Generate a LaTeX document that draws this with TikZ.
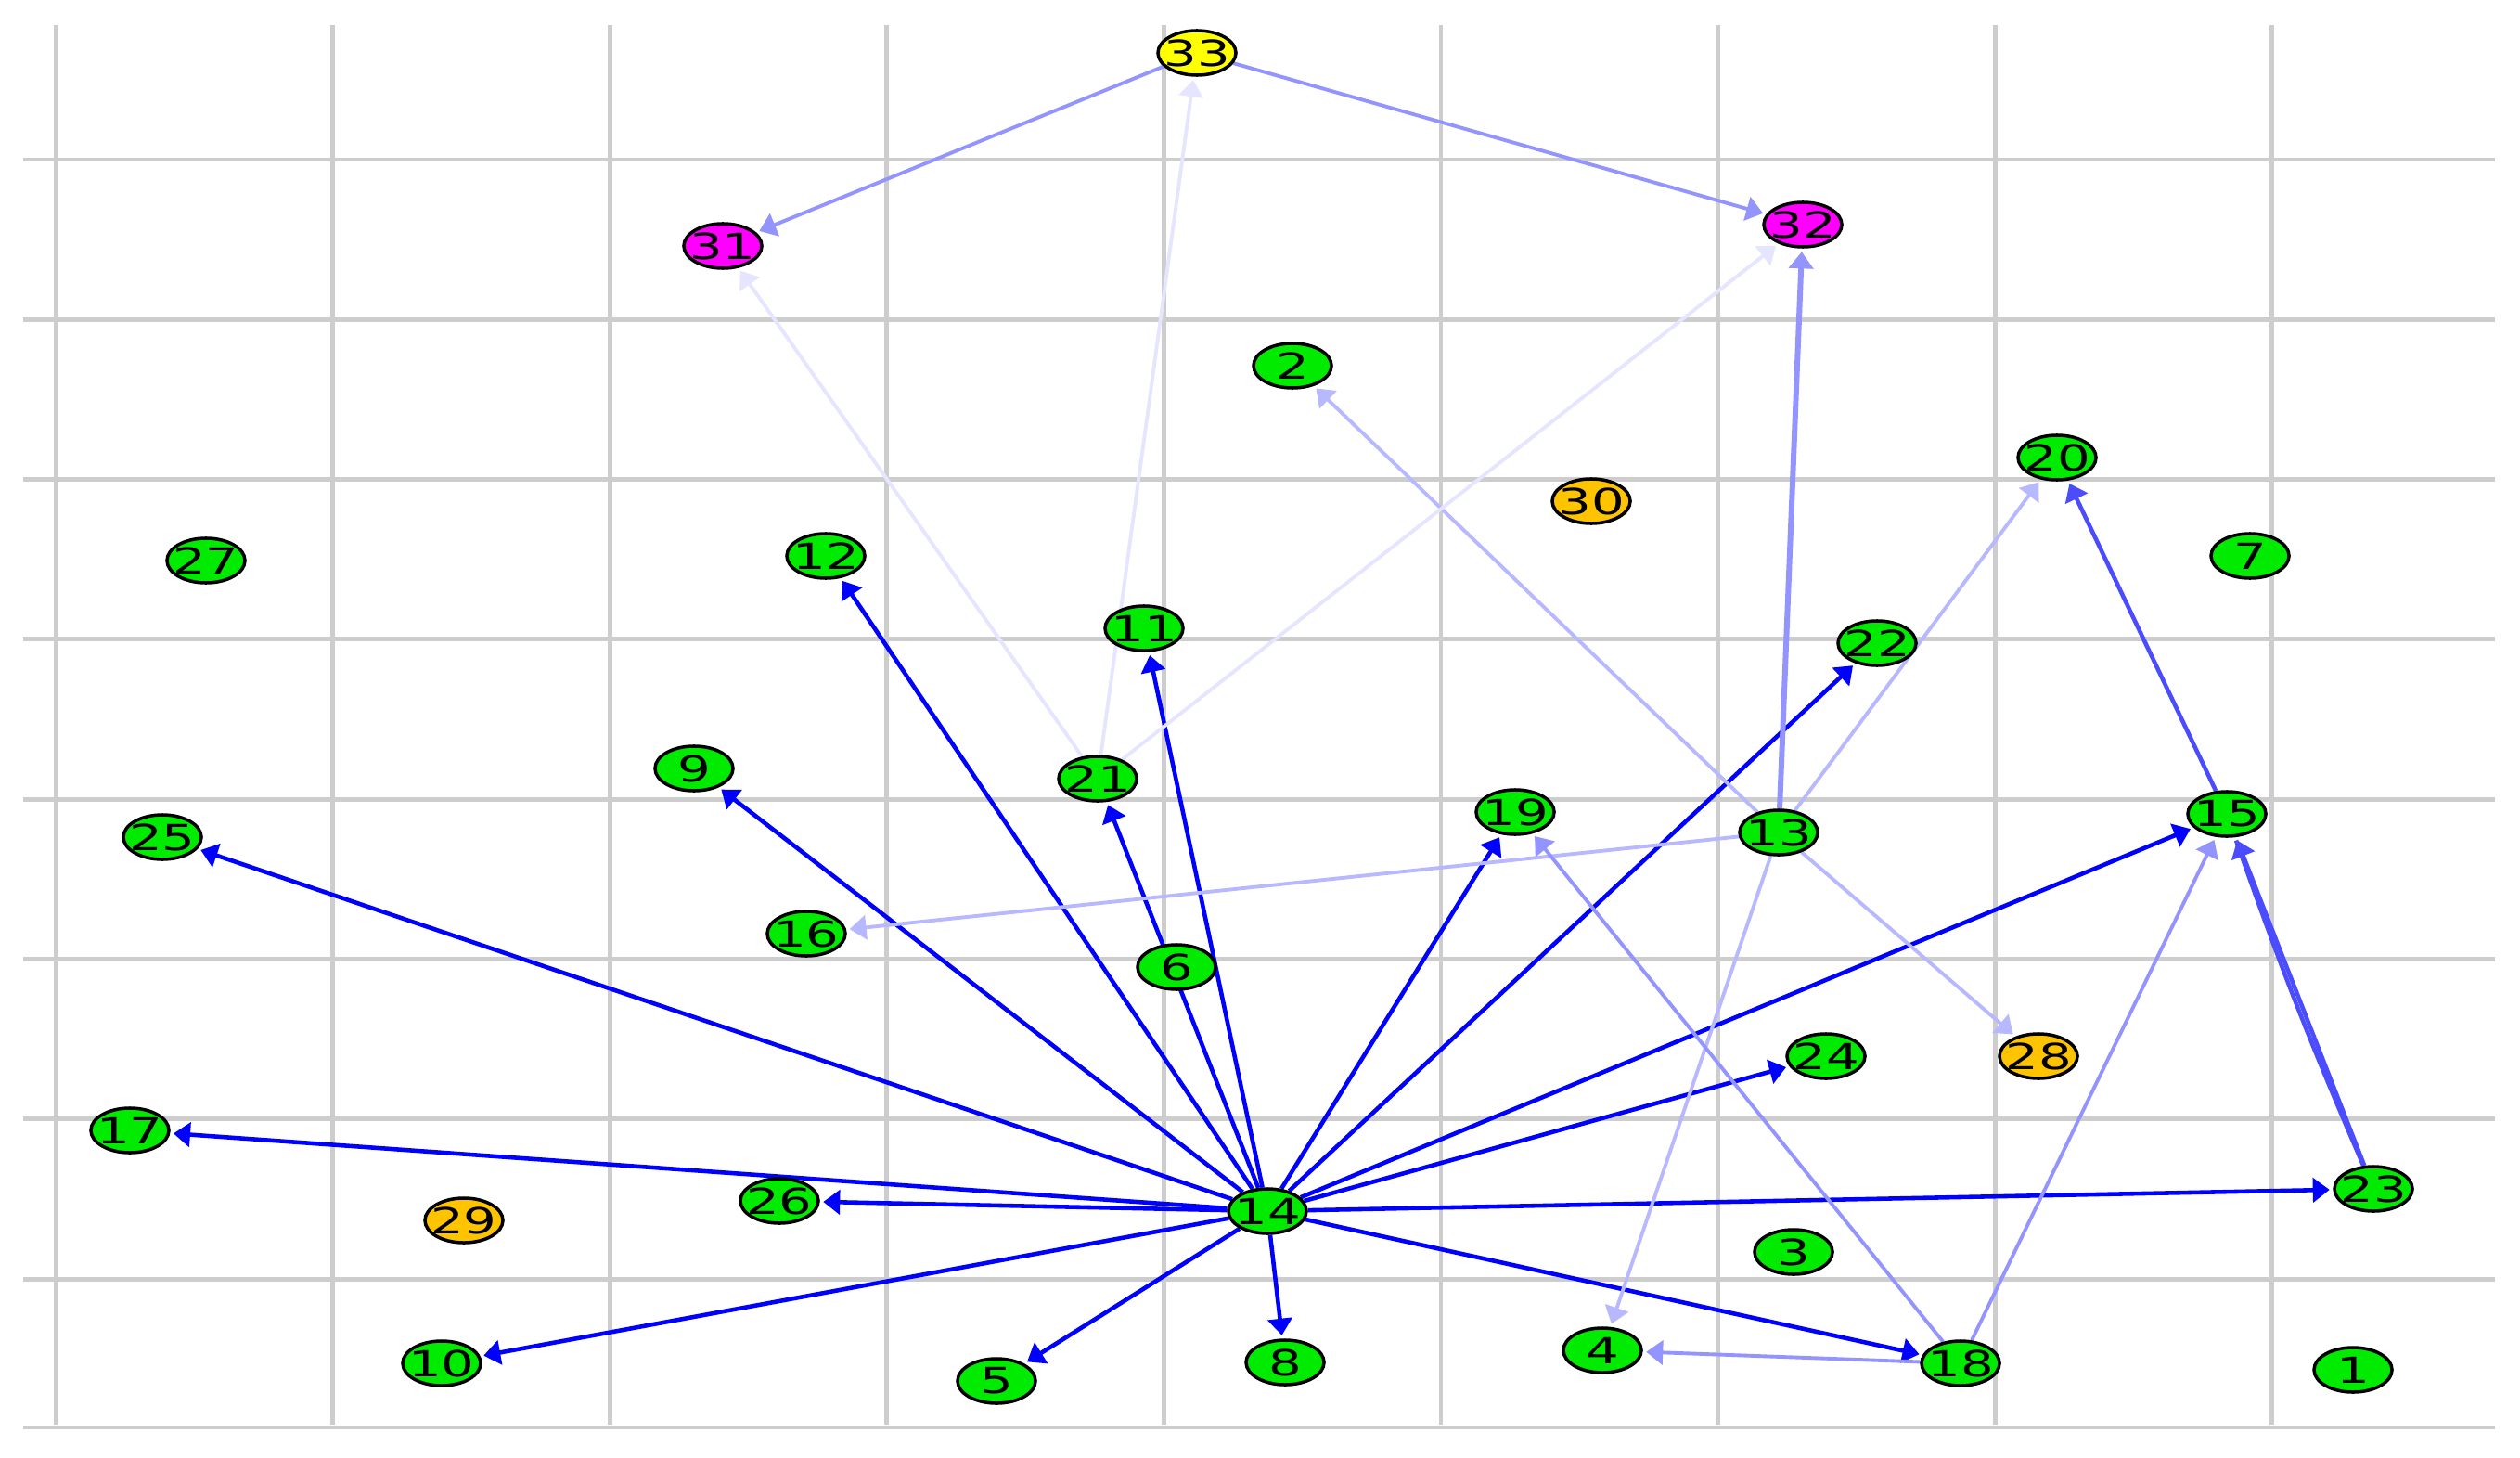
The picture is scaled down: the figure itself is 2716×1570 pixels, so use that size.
\documentclass[tikz,border=0pt]{standalone}
\usepackage{fontspec}
\setmainfont{DejaVu Sans}
\usepackage{graphicx}
\usetikzlibrary{arrows.meta,shapes.geometric}
\pgfdeclarelayer{back}
\pgfsetlayers{back,main}
\definecolor{vgreen}{RGB}{0,235,0}
\definecolor{vorange}{RGB}{255,196,0}
\definecolor{vyellow}{RGB}{255,255,0}
\definecolor{vmagenta}{RGB}{255,0,255}
\definecolor{gridgray}{RGB}{205,205,205}
\newcommand{\lbl}[1]{\makebox[0pt]{\scalebox{1.45}[1]{#1}}}

\begin{document}
\begin{tikzpicture}[->,>={Triangle[length=0.18cm,width=0.26cm]},shorten >=1pt,
    x=0.01cm,y=-0.01cm,font=\fontsize{11}{11}\selectfont]
  \tikzstyle{vert}=[ellipse,draw=black,line width=1pt,minimum width=0.84cm,
    minimum height=0.48cm,inner sep=0pt,fill=vgreen]
  \tikzstyle{dark}=[draw=blue,line width=1.3pt]
  \tikzstyle{mid}=[draw=blue!70,line width=1.3pt]
  \tikzstyle{pale}=[draw=blue!42,line width=1.1pt]
  \tikzstyle{faint}=[draw=blue!28,line width=1.1pt]
  \tikzstyle{ghost}=[draw=blue!10,line width=1.1pt]
  \useasboundingbox (0,0) rectangle (2716,1570);

  % nodes
  \node [vert,fill=vyellow] (n33) at (1290,57) {\lbl{33}};
  \node [vert,fill=vmagenta] (n31) at (779,265) {\lbl{31}};
  \node [vert,fill=vmagenta] (n32) at (1943,242) {\lbl{32}};
  \node [vert] (n2) at (1393,394) {\lbl{2}};
  \node [vert,fill=vorange] (n30) at (1715,540) {\lbl{30}};
  \node [vert] (n20) at (2217,493) {\lbl{20}};
  \node [vert] (n27) at (222,604) {\lbl{27}};
  \node [vert] (n12) at (890,599) {\lbl{12}};
  \node [vert] (n7) at (2425,599) {\lbl{7}};
  \node [vert] (n11) at (1233,677) {\lbl{11}};
  \node [vert] (n22) at (2023,693) {\lbl{22}};
  \node [vert] (n9) at (748,828) {\lbl{9}};
  \node [vert] (n21) at (1183,839) {\lbl{21}};
  \node [vert] (n25) at (175,902) {\lbl{25}};
  \node [vert] (n19) at (1633,875) {\lbl{19}};
  \node [vert] (n13) at (1917,897) {\lbl{13}};
  \node [vert] (n15) at (2400,877) {\lbl{15}};
  \node [vert] (n16) at (869,1006) {\lbl{16}};
  \node [vert] (n6) at (1268,1042) {\lbl{6}};
  \node [vert] (n24) at (1968,1138) {\lbl{24}};
  \node [vert,fill=vorange] (n28) at (2197,1138) {\lbl{28}};
  \node [vert] (n17) at (140,1218) {\lbl{17}};
  \node [vert,fill=vorange] (n29) at (500,1315) {\lbl{29}};
  \node [vert] (n26) at (840,1294) {\lbl{26}};
  \node [vert] (n14) at (1366,1305) {\lbl{14}};
  \node [vert] (n23) at (2558,1281) {\lbl{23}};
  \node [vert] (n3) at (1933,1349) {\lbl{3}};
  \node [vert] (n10) at (476,1469) {\lbl{10}};
  \node [vert] (n5) at (1074,1488) {\lbl{5}};
  \node [vert] (n8) at (1385,1468) {\lbl{8}};
  \node [vert] (n4) at (1727,1455) {\lbl{4}};
  \node [vert] (n18) at (2113,1469) {\lbl{18}};
  \node [vert] (n1) at (2536,1476) {\lbl{1}};

  \begin{pgfonlayer}{back}
    % grid
    \foreach \gx in {0,...,8}
      \draw [-,gridgray,line width=1.4pt] (60+298.6*\gx,27) -- (60+298.6*\gx,1538);
    \foreach \gy in {0,...,7}
      \draw [-,gridgray,line width=1.4pt] (25,172+172.3*\gy) -- (2692,172+172.3*\gy);
    \draw [-,gridgray,line width=1.4pt] (25,1538) -- (2692,1538);

    % edges
    \path (n14) edge [dark] (n25)
                edge [dark] (n9)
                edge [dark] (n12)
                edge [dark] (n21)
                edge [dark] (n11)
                edge [dark] (n19)
                edge [dark] (n22)
                edge [dark] (n15)
                edge [dark] (n24)
                edge [dark] (n23)
                edge [dark] (n18)
                edge [dark] (n8)
                edge [dark] (n5)
                edge [dark] (n10)
                edge [dark] (n26)
                edge [dark] (n17);
    \path (n15) edge [mid] (n20)
          (n23) edge [mid] (n15)
                edge [mid,-,bend left=2] (n15);
    \path (n33) edge [pale] (n31)
                edge [pale] (n32)
          (n13) edge [pale,line width=1.7pt] (n32)
                edge [faint] (n2)
                edge [faint] (n20)
                edge [faint] (n16)
                edge [faint] (n28)
                edge [faint] (n4)
          (n18) edge [pale] (n4)
                edge [pale] (n19)
                edge [pale] (n15)
          (n21) edge [ghost] (n33)
                edge [ghost] (n31)
                edge [ghost] (n32);
  \end{pgfonlayer}
\end{tikzpicture}
\end{document}
